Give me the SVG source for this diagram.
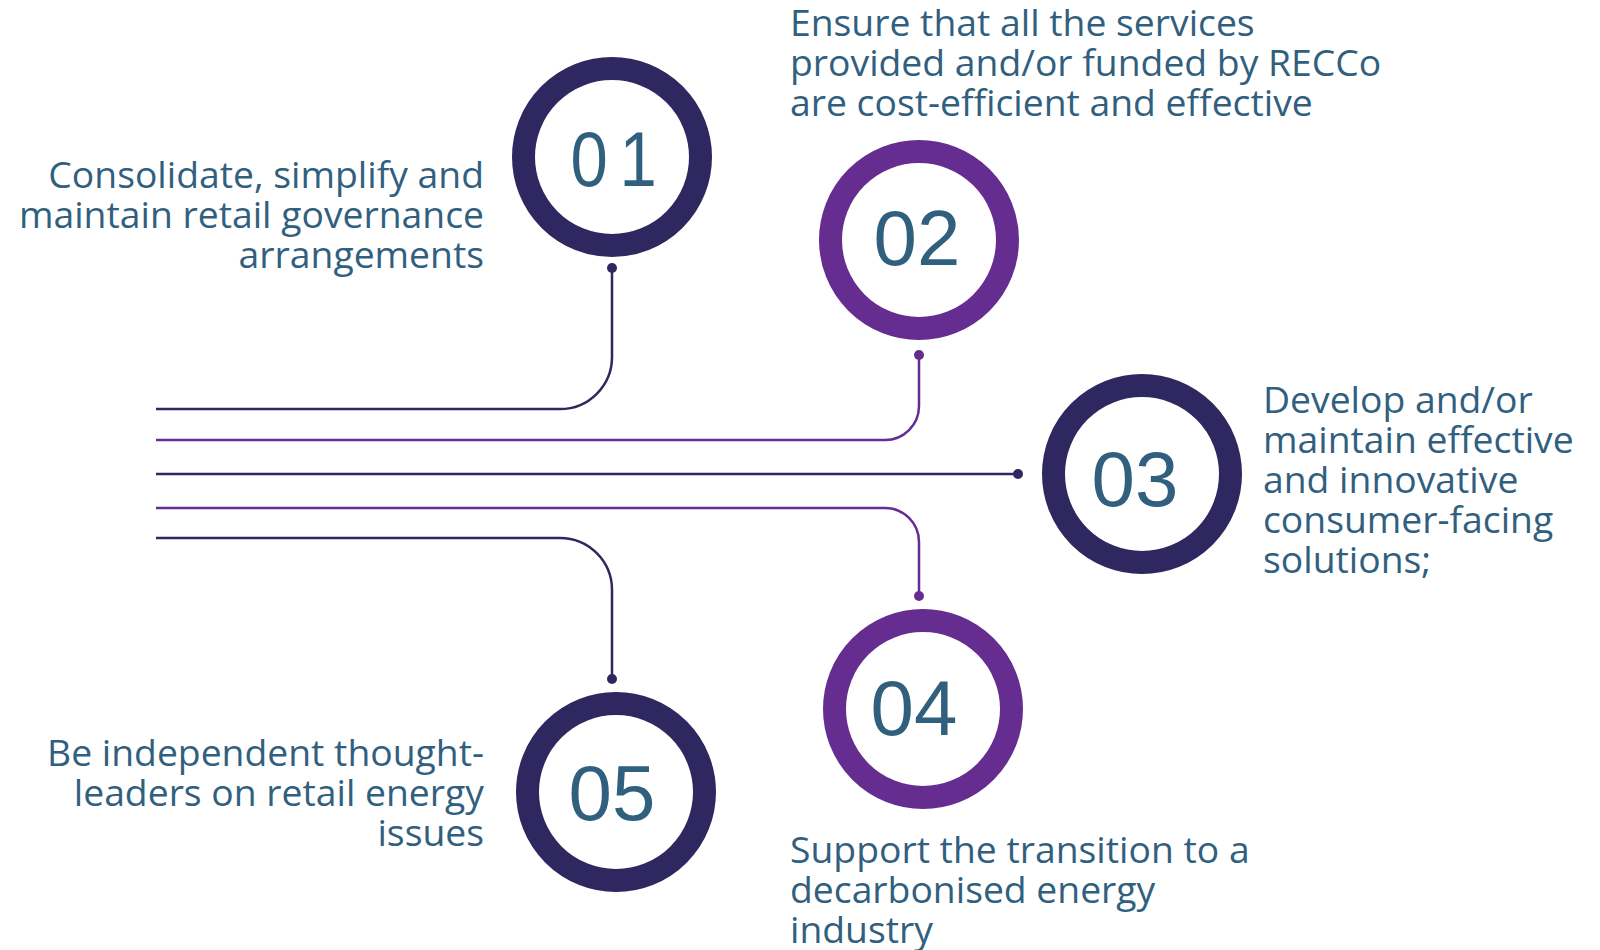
<svg xmlns="http://www.w3.org/2000/svg" width="1600" height="950" viewBox="0 0 1600 950">
<style>
.txt{font-family:"Open Sans","Noto Sans",sans-serif;font-size:37.3px;fill:#31607F}
.num{font-family:"Liberation Sans",Arial,sans-serif;font-size:78px;fill:#31607F;text-anchor:middle}
.ring{fill:#FFFFFF;stroke-width:23}
.navy{stroke:#2F275F}
.purple{stroke:#662D91}
.conn{fill:none;stroke-width:2.5}
.dn{fill:#2F275F}
.dp{fill:#662D91}
.r{text-anchor:end}
</style>
<rect width="1600" height="950" fill="#FFFFFF"/>
<g id="connectors">
<path class="conn navy" d="M156,409 H560 A52,52 0 0 0 612,357 V268"/>
<circle class="dn" cx="612" cy="268" r="5"/>
<path class="conn purple" d="M156,440 H885 A34,34 0 0 0 919,406 V355"/>
<circle class="dp" cx="919" cy="355" r="5"/>
<path class="conn navy" d="M156,474 H1018"/>
<circle class="dn" cx="1018" cy="474" r="5"/>
<path class="conn purple" d="M156,508 H885 A34,34 0 0 1 919,542 V596"/>
<circle class="dp" cx="919" cy="596" r="5"/>
<path class="conn navy" d="M156,538 H560 A52,52 0 0 1 612,590 V679"/>
<circle class="dn" cx="612" cy="679" r="5"/>
</g>
<g id="node-01">
<circle class="ring navy" cx="612" cy="157" r="88.5"/>
<text class="num" x="568" y="186" style="text-anchor:start" letter-spacing="13.6" transform="translate(613.5,0) scale(0.86,1) translate(-618,0)">01</text>
<text class="txt r"><tspan x="484" y="188">Consolidate, simplify and</tspan><tspan x="484" y="228">maintain retail governance</tspan><tspan x="484" y="268">arrangements</tspan></text>
</g>
<g id="node-02">
<circle class="ring purple" cx="919" cy="240" r="88.5"/>
<text class="num" x="917" y="265">02</text>
<text class="txt"><tspan x="790" y="36">Ensure that all the services</tspan><tspan x="790" y="76">provided and/or funded by RECCo</tspan><tspan x="790" y="116">are cost-efficient and effective</tspan></text>
</g>
<g id="node-03">
<circle class="ring navy" cx="1142" cy="474" r="88.5"/>
<text class="num" x="1135" y="506">03</text>
<text class="txt"><tspan x="1263" y="413">Develop and/or</tspan><tspan x="1263" y="453">maintain effective</tspan><tspan x="1263" y="493">and innovative</tspan><tspan x="1263" y="533">consumer-facing</tspan><tspan x="1263" y="573">solutions;</tspan></text>
</g>
<g id="node-04">
<circle class="ring purple" cx="923" cy="709" r="88.5"/>
<text class="num" x="914" y="735">04</text>
<text class="txt"><tspan x="790" y="863">Support the transition to a</tspan><tspan x="790" y="903">decarbonised energy</tspan><tspan x="790" y="943">industry</tspan></text>
</g>
<g id="node-05">
<circle class="ring navy" cx="616" cy="792" r="88.5"/>
<text class="num" x="612" y="820">05</text>
<text class="txt r"><tspan x="484" y="766">Be independent thought-</tspan><tspan x="484" y="806">leaders on retail energy</tspan><tspan x="484" y="846">issues</tspan></text>
</g>
</svg>
